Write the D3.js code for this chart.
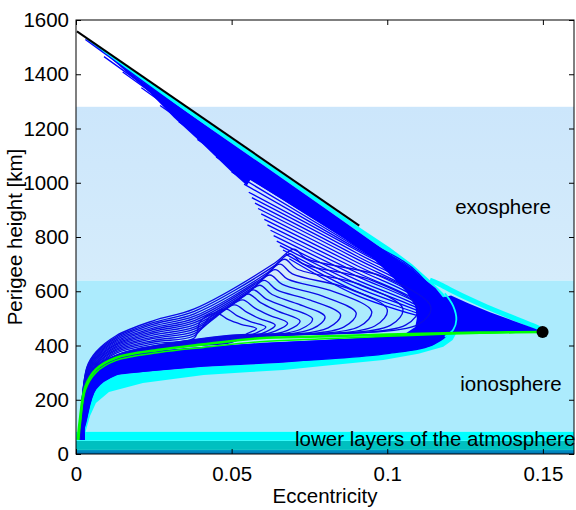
<!DOCTYPE html>
<html><head><meta charset="utf-8">
<script src="https://cdn.jsdelivr.net/npm/d3@7"></script>
<style>body{margin:0;background:#fff}svg{display:block}text{font-family:"Liberation Sans",Arial,sans-serif;fill:#000}</style>
</head><body><svg id="c" width="576" height="510"></svg>
<script>
// ---------------- data ----------------
const xTicks = [0, 0.05, 0.1, 0.15];
const xTickLabels = ["0", "0.05", "0.1", "0.15"];
const yTicks = [0, 200, 400, 600, 800, 1000, 1200, 1400, 1600];
const layerNames = ["lower layers of the atmosphere", "ionosphere", "exosphere"];
const layerLo = [0, 82, 640];
const layerHi = [82, 640, 1280];
const lowerSubLo = [0, 15, 49];
const lowerSubHi = [15, 49, 82];

const blackLine = [[0.0003, 1558], [0.091, 842]];
const startDot = [0.1499, 450];

const cyanOuter = [[0.004,1530],[0.02,1401],[0.04,1242],[0.06,1083],[0.08,924],[0.091,836],[0.1009,760],[0.108,700],[0.1137,641],[0.118,593],[0.1205,545],[0.1225,500],[0.1228,457],[0.121,420],[0.118,395],[0.11,370],[0.0987,347],[0.08,325],[0.0666,310],[0.0559,302],[0.041,291],[0.0215,262],[0.0106,229],[0.0064,188],[0.0045,140],[0.0032,88],[0.0025,52]];
const denseOuter = [[0.003,1532],[0.02,1384],[0.04,1225],[0.06,1066],[0.08,906],[0.1,744],[0.11,662],[0.1155,612],[0.119,562],[0.1203,510],[0.1205,470],[0.118,428],[0.112,396],[0.1,371],[0.08,350],[0.0666,336],[0.041,322],[0.0215,302],[0.0129,291],[0.0064,252],[0.004,200],[0.0025,120],[0.0015,52]];
const denseInner = [[0.0022,52],[0.0035,200],[0.0064,298],[0.0129,343],[0.0267,375],[0.041,392],[0.06,410],[0.08,420],[0.1,432],[0.106,445],[0.109,468],[0.1095,500],[0.109,545],[0.106,600],[0.101,660],[0.095,725],[0.086,795],[0.076,868],[0.066,940],[0.056,1010],[0.0549,990],[0.05,1040],[0.04,1150],[0.0315,1240],[0.0238,1331],[0.015,1420],[0.008,1490],[0.003,1533]];
const wingBlue = [[0.1499,452],[0.146,468],[0.14,493],[0.133,523],[0.126,556],[0.1205,584],[0.117,575],[0.116,520],[0.1165,470],[0.118,450],[0.13,449],[0.14,449]];
const wingCyan = [[0.1137,641],[0.1165,628],[0.121,601],[0.126,573],[0.132,542],[0.1427,492],[0.148,467],[0.1499,455]];
const innerCyanArc = [[0.1185,592],[0.1212,545],[0.1222,495],[0.1212,458],[0.1185,432]];

// family 1: staircase return curves
const f1StartX = [0.003,0.009,0.015,0.021,0.027,0.033,0.039,0.045,0.050,0.054,0.0555,0.0565,0.0575,0.0585,0.0595,0.0605,0.0615,0.0625,0.0635,0.0645,0.0655,0.0665,0.0675,0.0685];
const f1StartY = [1528,1465,1408,1350,1285,1225,1160,1095,1040,995,965,945,925,905,885,865,845,825,805,785,768,752,736,720];
const f1Y090 = [812,806,800,794,788,782,776,770,764,758,752,742,731,720,708,696,683,670,657,643,629,615,600,586];
const f1Y110 = [666,660,655,650,645,640,636,632,628,624,620,612,604,596,588,580,572,563,554,545,536,527,518,509];
const f1TipX = [0.1205,0.1203,0.1201,0.1199,0.1197,0.1195,0.1193,0.1191,0.1189,0.1187,0.1185,0.1183,0.1181,0.1179,0.1177,0.1175,0.1173,0.1171,0.1169,0.1167,0.1166,0.1165,0.1164,0.1163];
const f1TipY = [468,469,470,471,472,473,474,475,476,477,478,479,480,481,482,483,484,485,486,487,488,489,490,491];
const lowX = [0.115, 0.1, 0.08, 0.06, 0.041, 0.02, 0.0129, 0.0064, 0.003];
const f1Low115 = [405,407,409,412,414,416,419,421,423,426,428,430,433,435,437,440,442,444,447,449,451,453,456,458];
const f1Low100 = [370,373,376,378,381,384,387,390,392,395,398,401,403,406,409,412,415,417,420,423,425,428,431,433];
const f1Low080 = [350,353,356,359,362,365,368,371,374,377,380,383,386,389,392,395,398,401,404,407,410,413,416,418];
const f1Low060 = [338,341,344,347,350,353,356,359,362,365,368,371,374,377,380,383,386,389,392,395,398,401,404,406];
const f1Low041 = [325,328,331,334,337,340,343,346,349,352,355,358,361,364,367,370,373,376,379,382,385,388,391,393];
const f1Low020 = [303,306,309,312,315,318,321,324,327,330,333,336,339,342,345,348,351,354,357,360,363,366,369,371];
const f1Low0129 = [292,295,298,300,303,306,309,312,314,317,320,323,326,328,331,334,337,340,342,345,348,350,353,355];
const f1Low0064 = [240,243,247,250,254,257,261,264,268,271,275,278,282,285,289,292,295,298,301,304,306,308,310,312];
const f1Low003 = [110,116,122,128,134,140,146,152,158,164,170,176,182,188,194,200,206,212,218,224,229,233,237,240];
const f1EndX = [0.0016,0.0016,0.0017,0.0017,0.0018,0.0018,0.0019,0.0019,0.002,0.002,0.0021,0.0021,0.0022,0.0022,0.0023,0.0023,0.0024,0.0024,0.0025,0.0025,0.0026,0.0026,0.0027,0.0027];

// family 2: humped loops
const leftX = [0.0035, 0.0064, 0.0129, 0.025, 0.038];
const f2L0035 = [262,266,271,275,280,284,289,293,298,302,307,311,316,320];
const f2L0064 = [318,322,327,331,336,340,345,349,354,358,363,367,372,376];
const f2L0129 = [372,377,382,387,392,397,402,406,411,416,421,426,431,436];
const f2L025 = [406,413,419,426,432,439,446,452,459,465,472,479,485,492];
const f2L038 = [428,436,444,452,460,468,476,484,492,500,508,517,526,535];
const f2PreX = [0.040,0.043,0.046,0.0485,0.050,0.052,0.054,0.0555,0.057,0.0585,0.060,0.0615,0.063,0.064];
const f2PreY = [490,505,520,536,552,566,582,598,615,633,650,668,688,705];
const f2PeakX = [0.045,0.048,0.051,0.0535,0.0553,0.057,0.059,0.0605,0.0623,0.064,0.0655,0.067,0.0688,0.070];
const f2PeakY = [520,535,550,568,590,605,622,640,660,680,700,718,738,755];
const f2PostX = [0.049,0.052,0.055,0.0575,0.0593,0.061,0.063,0.0645,0.0663,0.068,0.0695,0.071,0.0728,0.074];
const f2PostY = [495,508,522,538,558,572,588,605,625,645,664,682,702,720];
const f2MidX = [0.053,0.056,0.059,0.062,0.065,0.068,0.071,0.075,0.079,0.083,0.087,0.091,0.095,0.099];
const f2MidY = [478,488,499,512,526,540,554,568,583,598,612,626,640,652];
const f2TipX = [0.058,0.061,0.064,0.068,0.072,0.076,0.080,0.085,0.090,0.095,0.100,0.105,0.110,0.114];
const f2TipY = [462,468,475,482,490,498,506,513,520,526,532,536,540,542];
const f2BotX = [0.055,0.058,0.061,0.064,0.068,0.072,0.076,0.081,0.086,0.091,0.096,0.101,0.106,0.110];
const f2BotY = [444,447,450,453,456,459,462,465,468,470,472,474,476,478];
const retX = [0.05, 0.035, 0.02, 0.0129, 0.0064, 0.003];
const f2R05 = [412,414,416,418,420,422,424,426,428,430,432,434,436,438];
const f2R035 = [398,399,401,402,404,405,407,408,410,411,413,414,416,417];
const f2R02 = [375,376,377,378,379,380,381,382,383,384,385,386,387,388];
const f2R0129 = [352,353,354,355,356,357,358,359,360,361,362,363,364,364];
const f2R0064 = [302,304,305,307,309,310,312,314,315,317,319,320,322,324];
const f2R003 = [210,214,218,222,226,230,234,238,242,246,250,254,258,262];

const green1 = [[0.1499,450],[0.135,448],[0.122,446],[0.1,440],[0.078,433],[0.059,427],[0.041,404],[0.0267,384],[0.0129,355],[0.0064,312],[0.003,248],[0.0012,120],[0.0006,52]];
const green2 = [[0.1499,452],[0.135,447],[0.122,443],[0.1,434],[0.078,424],[0.059,414],[0.041,393],[0.0267,374],[0.0129,345],[0.0064,300],[0.003,235],[0.0015,120],[0.0009,52]];

// ---------------- drawing ----------------
const svg = d3.select("#c");
const x = d3.scaleLinear().domain([0, 0.16]).range([76, 574]);
const y = d3.scaleLinear().domain([0, 1600]).range([454, 20]);
const FS = "20.5px";

const defs = svg.append("defs");
defs.append("clipPath").attr("id", "clip").append("rect")
  .attr("x", 76).attr("y", 20).attr("width", 498).attr("height", 434);
const g = defs.append("linearGradient").attr("id", "exo").attr("x1", 0).attr("y1", 0).attr("x2", 0).attr("y2", 1);
g.append("stop").attr("offset", "0%").attr("stop-color", "#cce6fb");
g.append("stop").attr("offset", "100%").attr("stop-color", "#d5ecfb");
const lg = defs.append("linearGradient").attr("id", "low").attr("x1", 0).attr("y1", 0).attr("x2", 0).attr("y2", 1);
lg.append("stop").attr("offset", "0%").attr("stop-color", "#0098c8");
lg.append("stop").attr("offset", "100%").attr("stop-color", "#0070b0");

const plot = svg.append("g").attr("clip-path", "url(#clip)");
plot.append("rect").attr("x", 76).attr("y", 20).attr("width", 498).attr("height", 434).attr("fill", "#fff");

const layerFill = ["none", "#acebfd", "url(#exo)"];
plot.selectAll("rect.layer").data(d3.range(3)).join("rect").attr("class", "layer")
  .attr("x", x(0)).attr("width", x(0.16) - x(0))
  .attr("y", i => y(layerHi[i])).attr("height", i => y(layerLo[i]) - y(layerHi[i]))
  .attr("fill", i => layerFill[i]);
const subFill = ["url(#low)", "#00c0c0", "#00ffff"];
plot.selectAll("rect.sub").data(d3.range(3)).join("rect").attr("class", "sub")
  .attr("x", x(0)).attr("width", x(0.16) - x(0))
  .attr("y", i => y(lowerSubHi[i])).attr("height", i => y(lowerSubLo[i]) - y(lowerSubHi[i]))
  .attr("fill", i => subFill[i]);

const lin = d3.line().x(d => x(d[0])).y(d => y(d[1]));
const smooth = d3.line().x(d => x(d[0])).y(d => y(d[1])).curve(d3.curveCatmullRom.alpha(0.5));
const closed = d3.line().x(d => x(d[0])).y(d => y(d[1])).curve(d3.curveLinearClosed);

// cyan rim
plot.append("path").attr("d", closed(cyanOuter.concat(denseOuter.slice().reverse()))).attr("fill", "#00ffff");
plot.append("path").attr("d", smooth(wingCyan)).attr("fill", "none").attr("stroke", "#00ffff").attr("stroke-width", 5);
// dense blue
plot.append("path").attr("d", closed(denseOuter.concat(denseInner))).attr("fill", "#0000ff");

// family 1 curves
const f1Low = [f1Low115, f1Low100, f1Low080, f1Low060, f1Low041, f1Low020, f1Low0129, f1Low0064, f1Low003];
const f1 = f1StartX.map((sx, k) =>
  [[sx, f1StartY[k]], [0.09, f1Y090[k]], [0.11, f1Y110[k]], [f1TipX[k], f1TipY[k]]]
    .concat(lowX.map((lx, i) => [lx, f1Low[i][k]]))
    .concat([[f1EndX[k], 52]]));
plot.selectAll("path.f1").data(f1).join("path").attr("class", "f1")
  .attr("d", smooth).attr("fill", "none").attr("stroke", "#0000ff").attr("stroke-width", 1.3);

// family 2 loops
const f2L = [f2L0035, f2L0064, f2L0129, f2L025, f2L038];
const f2R = [f2R05, f2R035, f2R02, f2R0129, f2R0064, f2R003];
const f2 = f2PeakX.map((px, j) =>
  [[0.0012, 52]]
    .concat(leftX.map((lx, i) => [lx, f2L[i][j]]))
    .concat([[f2PreX[j], f2PreY[j]], [px, f2PeakY[j]], [f2PostX[j], f2PostY[j]], [f2MidX[j], f2MidY[j]],
             [f2TipX[j], f2TipY[j]], [f2BotX[j], f2BotY[j]]])
    .concat(retX.map((rx, i) => [rx, f2R[i][j]]))
    .concat([[0.0014, 52]]));
plot.selectAll("path.f2").data(f2).join("path").attr("class", "f2")
  .attr("d", smooth).attr("fill", "none").attr("stroke", "#0a0ae6").attr("stroke-width", 1.35);

// wing + inner cyan arc
plot.append("path").attr("d", closed(wingBlue)).attr("fill", "#0000ff");
plot.append("path").attr("d", smooth(innerCyanArc)).attr("fill", "none").attr("stroke", "#00ffff").attr("stroke-width", 1.8);

// green
plot.append("path").attr("d", smooth(green2)).attr("fill", "none").attr("stroke", "#00ff00").attr("stroke-width", 1.5);
plot.append("path").attr("d", smooth(green1)).attr("fill", "none").attr("stroke", "#00ff00").attr("stroke-width", 2.6);

// black line + dot
plot.append("path").attr("d", lin(blackLine)).attr("stroke", "#000").attr("stroke-width", 2).attr("fill", "none");
svg.append("circle").attr("cx", x(startDot[0])).attr("cy", y(startDot[1])).attr("r", 6).attr("fill", "#000");

// layer labels
svg.append("text").attr("x", 503).attr("y", 214).attr("text-anchor", "middle").style("font-size", FS).text(layerNames[2]);
svg.append("text").attr("x", 511).attr("y", 391).attr("text-anchor", "middle").style("font-size", FS).text(layerNames[1]);
svg.append("text").attr("x", 295).attr("y", 446).attr("text-anchor", "start").style("font-size", FS).text(layerNames[0]);

// axes
const ax = svg.append("g");
ax.append("g").attr("transform", "translate(0,454)")
  .call(d3.axisBottom(x).tickValues(xTicks).tickFormat((d, i) => xTickLabels[i]).tickSizeInner(-5).tickSizeOuter(0).tickPadding(12));
ax.append("g").attr("transform", "translate(0,20)")
  .call(d3.axisTop(x).tickValues(xTicks).tickFormat("").tickSizeInner(-5).tickSizeOuter(0));
ax.append("g").attr("transform", "translate(76,0)")
  .call(d3.axisLeft(y).tickValues(yTicks).tickFormat(d3.format("d")).tickSizeInner(-5).tickSizeOuter(0).tickPadding(7));
ax.append("g").attr("transform", "translate(574,0)")
  .call(d3.axisRight(y).tickValues(yTicks).tickFormat("").tickSizeInner(-5).tickSizeOuter(0));
ax.selectAll(".domain").remove();
ax.selectAll("text").style("font-size", FS).style("font-family", '"Liberation Sans",Arial,sans-serif').attr("fill", "#000");
ax.selectAll(".tick line").attr("stroke", "#000");
svg.append("rect").attr("x", 76).attr("y", 20).attr("width", 498).attr("height", 434)
  .attr("fill", "none").attr("stroke", "#000").attr("stroke-width", 1);

svg.append("text").attr("x", 325).attr("y", 503).attr("text-anchor", "middle").style("font-size", FS).text("Eccentricity");
svg.append("text").attr("transform", "translate(22,237) rotate(-90)").attr("text-anchor", "middle").style("font-size", FS).text("Perigee height [km]");
</script></body></html>
